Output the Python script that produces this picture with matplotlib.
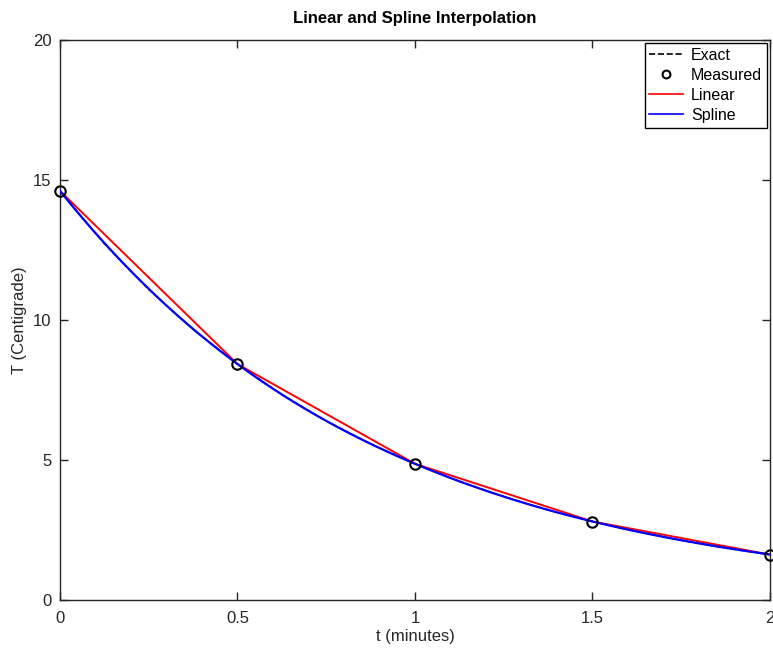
import numpy as np
import matplotlib
matplotlib.use("Agg")
import matplotlib.pyplot as plt

# measured temperature (Centigrade) vs time (minutes)
t_meas = [0.0, 0.5, 1.0, 1.5, 2.0]
T_meas = [14.6, 8.42, 4.86, 2.80, 1.62]

# exact curve
t_exact = [0.0, 0.125, 0.25, 0.375, 0.5, 0.625, 0.75, 0.875, 1.0,
           1.125, 1.25, 1.375, 1.5, 1.625, 1.75, 1.875, 2.0]
T_exact = [14.6, 12.71, 11.08, 9.66, 8.42, 7.33, 6.39, 5.57, 4.86,
           4.23, 3.69, 3.21, 2.80, 2.44, 2.13, 1.85, 1.62]


def spline_notaknot(x, y, xq):
    """cubic spline, not-a-knot ends (like MATLAB spline)"""
    x = np.asarray(x, float)
    y = np.asarray(y, float)
    n = len(x)
    h = np.diff(x)
    A = np.zeros((n, n))
    b = np.zeros(n)
    for i in range(1, n - 1):
        A[i, i - 1] = h[i - 1]
        A[i, i] = 2 * (h[i - 1] + h[i])
        A[i, i + 1] = h[i]
        b[i] = 6 * ((y[i + 1] - y[i]) / h[i] - (y[i] - y[i - 1]) / h[i - 1])
    A[0, 0], A[0, 1], A[0, 2] = h[1], -(h[0] + h[1]), h[0]
    A[-1, -3], A[-1, -2], A[-1, -1] = h[-1], -(h[-2] + h[-1]), h[-2]
    M = np.linalg.solve(A, b)
    idx = np.clip(np.searchsorted(x, xq) - 1, 0, n - 2)
    x0, x1 = x[idx], x[idx + 1]
    hh = x1 - x0
    return (M[idx] * (x1 - xq) ** 3 / (6 * hh) + M[idx + 1] * (xq - x0) ** 3 / (6 * hh)
            + (y[idx] / hh - M[idx] * hh / 6) * (x1 - xq)
            + (y[idx + 1] / hh - M[idx + 1] * hh / 6) * (xq - x0))


plt.rcParams['font.family'] = ['Liberation Sans', 'DejaVu Sans']
plt.rcParams['font.size'] = 12

fig = plt.figure(figsize=(7.73, 6.5), dpi=100)
ax = fig.add_axes([0.0776, 0.077, 0.9185, 0.862])

tq = np.linspace(0, 2, 200)
ax.plot(t_exact, T_exact, '--', color='black', lw=1.0, label='Exact', zorder=1)
ax.plot(t_meas, T_meas, 'o', mfc='none', mec='black', ms=7.5, mew=1.5,
        label='Measured', clip_on=False, zorder=5)
ax.plot(t_meas, T_meas, '-', color='#ff0000', lw=1.4, label='Linear', zorder=2)
ax.plot(tq, spline_notaknot(t_meas, T_meas, tq), '-', color='#0000ff', lw=1.6,
        label='Spline', zorder=3)

ax.set_xlim(0, 2)
ax.set_ylim(0, 20)
ax.set_xticks([0, 0.5, 1, 1.5, 2])
ax.set_xticklabels(['0', '0.5', '1', '1.5', '2'])
ax.set_yticks([0, 5, 10, 15, 20])
ax.tick_params(direction='in', top=True, right=True, length=6, width=1,
               colors='#262626', labelcolor='#262626', labelsize=12)
ax.tick_params(axis='x', pad=8)
ax.tick_params(axis='y', pad=6)
for s in ax.spines.values():
    s.set_color('#262626')
    s.set_linewidth(1)

ax.set_xlabel('t (minutes)', color='#262626', labelpad=2)
ax.set_ylabel('T (Centigrade)', color='#262626', labelpad=4)
ax.set_title('Linear and Spline Interpolation', fontweight='bold', fontsize=12, pad=12)

leg = ax.legend(loc='upper right', fancybox=False, framealpha=1, edgecolor='black',
                borderaxespad=0.2, handlelength=2.1, handletextpad=0.5,
                labelspacing=0.32, fontsize=11.5, borderpad=0.3, markerscale=0.75)
leg.get_frame().set_linewidth(1)
for ln in leg.get_lines():
    ln.set_linewidth(1.2)

fig.savefig('out.png', dpi=100)
